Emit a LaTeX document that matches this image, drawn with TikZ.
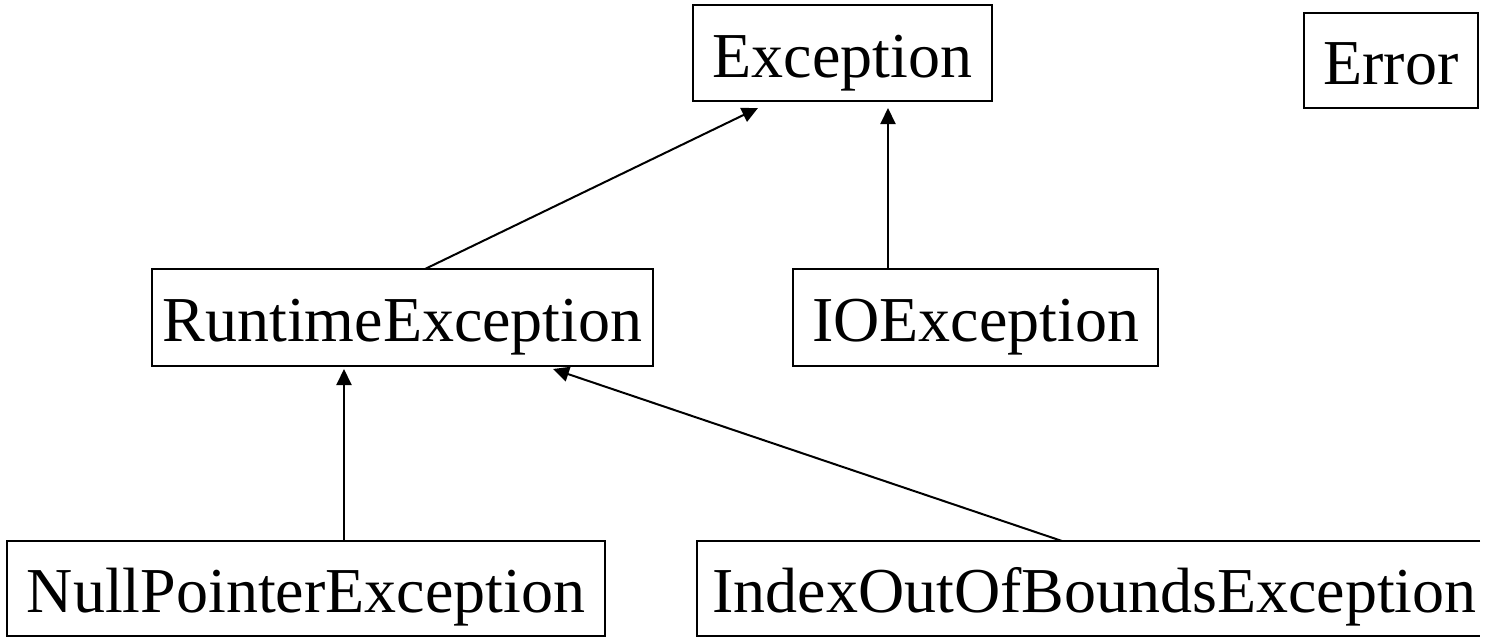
\documentclass[tikz,border=0pt]{standalone}
\usepackage{fontspec}
\setmainfont{Liberation Serif}
\usetikzlibrary{arrows.meta}
\begin{document}
\begin{tikzpicture}[x=0.5pt,y=-0.5pt,
  cls/.style={draw, line width=1pt, inner sep=0pt, outer sep=0pt, text height=24.2pt, text depth=0pt, font=\fontsize{32}{38}\selectfont},
  opencls/.style={inner sep=0pt, outer sep=0pt, text height=24.2pt, text depth=0pt, font=\fontsize{32}{38}\selectfont},
  inh/.style={line width=1pt, -{Triangle[length=8pt,width=7.5pt]}}]
\useasboundingbox (0,0) rectangle (1485,637);
\node[cls, minimum width=149.5pt, minimum height=48pt] (exc) at (842.5,53) {Exception};
\node[cls, minimum width=87pt, minimum height=47.5pt] (err) at (1391,60.5) {Error};
\node[cls, minimum width=250.5pt, minimum height=48.5pt] (rte) at (402.5,317.5) {RuntimeException};
\node[cls, minimum width=182.5pt, minimum height=48.5pt] (ioe) at (975.5,317.5) {IOException};
\node[cls, minimum width=299pt, minimum height=47.5pt] (npe) at (306,588.5) {NullPointerException};
\node[opencls, minimum width=391.5pt, minimum height=47.5pt] (idx) at (1088.5,588.5) {\hspace{6pt}IndexOutOfBoundsException};
\draw[line width=1pt] (idx.north east) -- (idx.north west) -- (idx.south west) -- (idx.south east);
\draw[inh] ([xshift=136.5pt]rte.north west) -- ([xshift=32.5pt,yshift=-3.5pt]exc.south west);
\draw[inh] ([xshift=47.5pt]ioe.north west) -- ([xshift=97.5pt,yshift=-3.5pt]exc.south west);
\draw[inh] ([xshift=168.5pt]npe.north west) -- ([xshift=96pt,yshift=-1.5pt]rte.south west);
\draw[inh] ([xshift=182.5pt]idx.north west) -- ([xshift=200.5pt,yshift=-1.5pt]rte.south west);
\end{tikzpicture}
\end{document}
